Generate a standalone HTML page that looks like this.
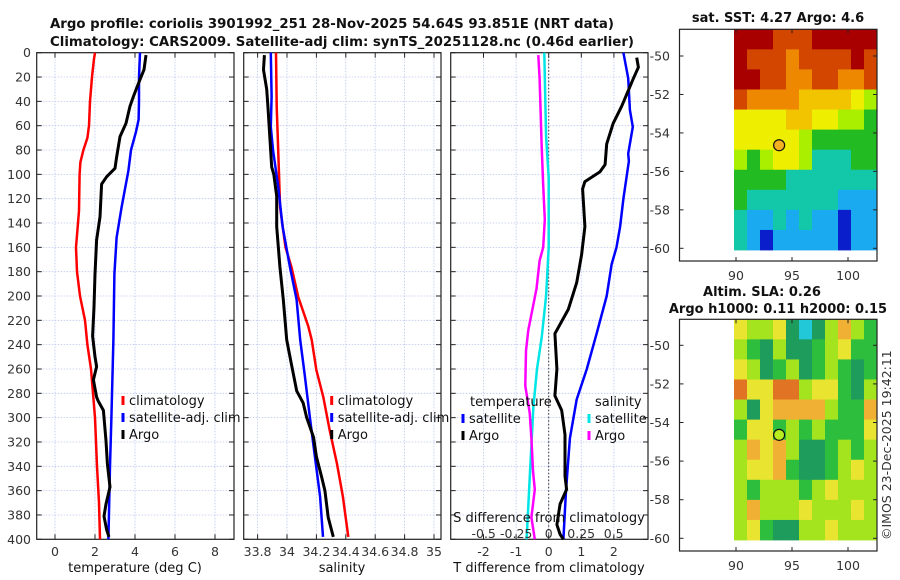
<!DOCTYPE html>
<html><head><meta charset="utf-8"><style>
html,body{margin:0;padding:0;background:#fff}
svg{display:block;font-family:"DejaVu Sans","Liberation Sans",sans-serif}
.tk{font-size:12.5px;fill:#333}
.tt{font-size:13px;font-weight:bold;fill:#111}
.lg{font-size:13px;fill:#111}
</style></head><body>
<svg id="fig" width="900" height="580" viewBox="0 0 900 580">
<text class="tt" x="50" y="28" textLength="564" lengthAdjust="spacingAndGlyphs">Argo profile: coriolis 3901992_251 28-Nov-2025 54.64S 93.851E (NRT data)</text>
<text class="tt" x="50" y="46" textLength="584" lengthAdjust="spacingAndGlyphs">Climatology: CARS2009. Satellite-adj clim: synTS_20251128.nc (0.46d earlier)</text>
<g id="g"></g>
</svg>
<script>
// ---- data ----
const depthGrid=[0,20,40,60,80,100,120,140,160,180,200,220,240,260,280,300,320,340,360,380,400];
const tClimDepth=[0,5,20,40,60,70,80,90,100,130,160,180,200,220,240,260,280,300,340,370,400];
const tClimVal=[2.0,1.95,1.85,1.75,1.7,1.62,1.42,1.27,1.23,1.2,1.05,1.1,1.25,1.5,1.62,1.8,1.9,2.0,2.1,2.2,2.25];
const tSatDepth=[0,20,40,55,65,80,97,127,152,182,236,300,340,400];
const tSatVal=[4.25,4.2,4.2,4.18,4.05,3.8,3.67,3.33,3.08,2.97,2.92,2.82,2.75,2.67];
const tArgoDepth=[2,14,22,36,44,58,69,86,95,102,108,135,154,182,209,233,250,258,269,283,286,294,319,338,357,371,381,392,398];
const tArgoVal=[4.55,4.45,4.25,3.92,3.75,3.55,3.25,3.08,3.0,2.58,2.33,2.25,2.08,2.0,1.95,1.88,2.0,2.08,1.92,2.08,2.15,2.42,2.55,2.62,2.75,2.55,2.45,2.58,2.7];
const sSatDepth=[0,36,61,80,110,143,176,203,236,264,300,332,365,398];
const sSatVal=[33.89,33.895,33.89,33.905,33.94,33.97,34.02,34.065,34.09,34.12,34.156,34.19,34.225,34.245];
const sClimDepth=[0,44,80,127,160,176,201,225,236,261,283,310,338,365,398];
const sClimVal=[33.925,33.93,33.94,33.953,33.99,34.03,34.077,34.145,34.168,34.2,34.247,34.29,34.34,34.38,34.417];
const sArgoDepth=[2,14,30,44,94,100,118,143,176,203,236,256,278,288,300,316,332,349,360,382,398];
const sArgoVal=[33.846,33.84,33.862,33.87,33.896,33.91,33.93,33.93,33.952,33.975,33.998,34.03,34.066,34.11,34.134,34.18,34.2,34.236,34.258,34.28,34.315];
const dTSatDepth=[0,21,47,61,83,89,120,143,160,174,200,231,260,285,317,360,400];
const dTSatVal=[2.29,2.44,2.49,2.58,2.44,2.46,2.29,2.19,2.08,1.93,1.78,1.47,1.17,0.86,0.65,0.53,0.45];
const dTArgoDepth=[4,12,21,44,58,75,92,98,106,112,143,166,189,211,231,260,282,294,314,348,359,371,388,396,400];
const dTArgoVal=[2.7,2.75,2.6,2.24,1.98,1.78,1.73,1.57,1.11,1.04,1.11,1.01,0.86,0.6,0.19,0.25,0.19,0.4,0.5,0.5,0.55,0.35,0.25,0.35,0.45];
const dSSatDepth=[0,69,103,160,200,234,260,291,345,400];
const dSSatVal=[-0.034,-0.02,0,0,-0.02,-0.054,-0.09,-0.118,-0.144,-0.17];
const dSArgoDepth=[2,21,75,109,137,160,171,194,228,245,274,296,317,345,359,382,400];
const dSArgoVal=[-0.08,-0.07,-0.055,-0.042,-0.03,-0.042,-0.07,-0.094,-0.157,-0.175,-0.18,-0.146,-0.133,-0.12,-0.107,-0.133,-0.107];
const tTicks=[0,2,4,6,8];
const sTicks=[33.8,34,34.2,34.4,34.6,34.8,35];
const dTTicks=[-2,-1,0,1,2];
const dSTicks=[-0.5,-0.25,0,0.25,0.5];
const sstGrid=[
[9,9,9,8,8,8,9,9,9,9,9],
[9,8,8,8,7,8,8,8,8,9,8],
[9,9,8,8,7,7,8,8,7,7,8],
[8,7,7,7,7,6,6,6,6,5,4],
[5,5,5,5,6,6,5,5,4,4,3],
[5,5,5,5,5,4,3,3,3,3,3],
[4,3,4,5,5,4,2,2,2,3,3],
[3,3,3,3,2,2,2,2,2,2,2],
[3,2,2,2,2,2,2,2,1,1,1],
[2,1,1,2,1,2,1,1,0,1,1],
[2,1,0,1,1,1,1,1,0,1,1]];
const slaGrid=[
[4,3,3,4,1,0,1,3,5,3,2],
[3,2,1,3,1,1,2,3,4,2,2],
[4,3,1,2,3,1,2,3,2,1,2],
[6,4,4,6,6,3,4,4,2,1,3],
[3,1,4,5,5,5,5,3,2,2,5],
[2,4,4,2,3,2,3,2,2,2,4],
[3,5,4,5,3,1,1,2,3,2,3],
[3,4,4,5,2,1,1,2,3,4,3],
[3,2,3,3,3,2,3,4,3,3,3],
[3,5,3,3,3,4,3,3,3,4,3],
[3,4,2,1,1,3,3,4,3,3,3]];
const latTicks=[-50,-52,-54,-56,-58,-60];
const lonTicks=[90,95,100];
const argoLon=93.851, argoLat=-54.64;

// ---- scales ----
const Y=d=>52.7+d*1.2165;
const XT=t=>55+t*20;
const XS=s=>287+(s-34)*147;
const XdT=t=>548.7+32.6*t;
const XdS=s=>548.7+130*s;
const NS='http://www.w3.org/2000/svg';
const G=document.getElementById('g');
function el(tag,attrs,parent,txt){const e=document.createElementNS(NS,tag);for(const k in attrs)e.setAttribute(k,attrs[k]);if(txt!==undefined)e.textContent=txt;(parent||G).appendChild(e);return e;}

function panel(name,x0,x1,ticks,xf,labels,showDepth){
  const g=el('g',{});
  
  
  depthGrid.forEach(d=>{
    const l=el('line',{x1:x0,x2:x1,y1:Y(d),y2:Y(d),stroke:'#bcc6ee','stroke-width':0.8,'stroke-dasharray':'1.5,1.5'},g);
    
    
    el('line',{x1:x0,x2:x0+5,y1:Y(d),y2:Y(d),stroke:'#222'},g);
    el('line',{x1:x1-5,x2:x1,y1:Y(d),y2:Y(d),stroke:'#222'},g);
    if(showDepth){const t=el('text',{x:31,y:Y(d)+4.5,'text-anchor':'end',class:'tk'},g,String(d));
      
      }
  });
  ticks.forEach((v,i)=>{
    const x=xf(v);
    const l=el('line',{x1:x,x2:x,y1:Y(0),y2:Y(400),stroke:'#bcc6ee','stroke-width':0.8,'stroke-dasharray':'1.5,1.5'},g);
    
    
    el('line',{x1:x,x2:x,y1:Y(0),y2:Y(0)+5,stroke:'#222'},g);
    el('line',{x1:x,x2:x,y1:Y(400)-5,y2:Y(400),stroke:'#222'},g);
    if(labels){const t=el('text',{x:x,y:556,'text-anchor':'middle',class:'tk'},g,labels[i]);
      
      }
  });
  const r=el('rect',{x:x0,y:Y(0),width:x1-x0,height:Y(400)-Y(0),fill:'none',stroke:'#222','stroke-width':1.2},g);
  
  
  return g;
}
function line(name,depths,vals,xf,color,w){
  const d=depths.map((dd,i)=>(i?'L':'M')+xf(vals[i]).toFixed(1)+','+Y(dd).toFixed(1)).join('');
  const p=el('path',{d:d,fill:'none',stroke:color,'stroke-width':w,'stroke-linejoin':'round'});
  
  
}
function legend(name,x,y,color,label){
  const g=el('g',{});
  
  
  el('rect',{x:x-1.5,y:y-9,width:3,height:9,fill:color},g);
  el('text',{x:x+6,y:y,class:'lg'},g,label);
}
function axisTitle(name,x,y,txt){const t=el('text',{x:x,y:y,'text-anchor':'middle',class:'lg'},G,txt);
  
  }

// panel 1
panel('temperature-panel',36.7,234,tTicks,XT,tTicks.map(String),true);
line('temperature-climatology-line',tClimDepth,tClimVal,XT,'#f00',2.5);
line('temperature-satellite-line',tSatDepth,tSatVal,XT,'#00f',2.5);
line('temperature-argo-line',tArgoDepth,tArgoVal,XT,'#000',3);
legend('legend-climatology',123,405,'#f00','climatology');
legend('legend-satellite-adj',123,422,'#00f','satellite-adj. clim');
legend('legend-argo',123,439,'#000','Argo');
axisTitle('x-axis-title-temperature',135,572,'temperature (deg C)');

// panel 2
panel('salinity-panel',243.7,441,sTicks,XS,sTicks.map(String),false);
line('salinity-climatology-line',sClimDepth,sClimVal,XS,'#f00',2.5);
line('salinity-satellite-line',sSatDepth,sSatVal,XS,'#00f',2.5);
line('salinity-argo-line',sArgoDepth,sArgoVal,XS,'#000',3);
legend('legend-climatology-s',331.7,405,'#f00','climatology');
legend('legend-satellite-adj-s',331.7,422,'#00f','satellite-adj. clim');
legend('legend-argo-s',331.7,439,'#000','Argo');
axisTitle('x-axis-title-salinity',342,572,'salinity');

// panel 3
panel('difference-panel',450.7,648,dTTicks,XdT,dTTicks.map(String),false);
const z=el('line',{x1:XdT(0),x2:XdT(0),y1:Y(0),y2:Y(400),stroke:'#333','stroke-width':1,'stroke-dasharray':'1.5,2'});


line('salinity-satellite-diff-line',dSSatDepth,dSSatVal,XdS,'#00e5e5',2.5);
line('salinity-argo-diff-line',dSArgoDepth,dSArgoVal,XdS,'#f0f',2.5);
line('temperature-satellite-diff-line',dTSatDepth,dTSatVal,XdT,'#00f',2.5);
line('temperature-argo-diff-line',dTArgoDepth,dTArgoVal,XdT,'#000',3);
const lt=el('text',{x:470,y:406,class:'lg'},G,'temperature');


const ls=el('text',{x:595,y:406,class:'lg'},G,'salinity');


legend('legend-t-satellite',463,423,'#00f','satellite');
legend('legend-t-argo',463,440,'#000','Argo');
legend('legend-s-satellite',589,423,'#00e5e5','satellite');
legend('legend-s-argo',589,440,'#f0f','Argo');
axisTitle('s-difference-axis-title',549,522,'S difference from climatology');
dSTicks.forEach(v=>{const t=el('text',{x:XdS(v),y:538,'text-anchor':'middle',class:'tk'},G,String(v));
  
  });
axisTitle('x-axis-title-t-difference',549,572,'T difference from climatology');

// ---- maps ----
const sstColors=['#0a1ecc','#1aaaf0','#12c8a8','#22bb22','#aaee00','#eeee00','#f2c400','#ee8800','#d24600','#a80000'];
const slaColors=['#22c8d8','#1e9c5c','#2ebe3e','#a4e41e','#e8e430','#f0b034','#e07424'];
function map(name,fy0,fy1,dy0,dy1,lat50,lat60,grid,colors,dotColor){
  const g=el('g',{});
  
  
  const fx0=679.5,fx1=877,dx0=734,dx1=877;
  const lonX=l=>736+(l-90)*11.2;
  const latY=l=>lat50+(l+50)/-10*(lat60-lat50);
  const rows=grid.length,cols=grid[0].length;
  const cw=(dx1-dx0)/cols,ch=(dy1-dy0)/rows;
  grid.forEach((row,r)=>row.forEach((v,c)=>{
    const cell=el('rect',{x:(dx0+c*cw).toFixed(2),y:(dy0+r*ch).toFixed(2),width:(cw+0.4).toFixed(2),height:(ch+0.4).toFixed(2),fill:colors[v]},g);
    
    
  }));
  el('rect',{x:fx0,y:fy0,width:fx1-fx0,height:fy1-fy0,fill:'none',stroke:'#222','stroke-width':1.2},g);
  latTicks.forEach(l=>{const y=latY(l);
    el('line',{x1:fx0,x2:fx0+4,y1:y,y2:y,stroke:'#222'},g);
    el('line',{x1:fx1-4,x2:fx1,y1:y,y2:y,stroke:'#222'},g);
    const t=el('text',{x:670,y:y+4.5,'text-anchor':'end',class:'tk'},g,String(l));
    
    });
  lonTicks.forEach(l=>{const x=lonX(l);
    el('line',{x1:x,x2:x,y1:fy0,y2:fy0+4,stroke:'#222'},g);
    el('line',{x1:x,x2:x,y1:fy1-4,y2:fy1,stroke:'#222'},g);
    const t=el('text',{x:x,y:fy1+19,'text-anchor':'middle',class:'tk'},g,String(l));
    
    });
  const c=el('circle',{cx:lonX(argoLon),cy:latY(argoLat),r:5.5,fill:dotColor,stroke:'#111','stroke-width':1.2},g);
  
  
}
map('sst-map',29.3,261,29.3,250,56,248.3,sstGrid,sstColors,'#f4b020');
map('sla-map',319.3,551,319.3,540,345.3,538.3,slaGrid,slaColors,'#b8ee20');
const t1=el('text',{x:778,y:22,'text-anchor':'middle',class:'tt'},G,'sat. SST: 4.27 Argo: 4.6');


const t2=el('text',{x:762,y:296,'text-anchor':'middle',class:'tt'},G,'Altim. SLA: 0.26');


const t3=el('text',{x:778,y:313,'text-anchor':'middle',class:'tt'},G,'Argo h1000: 0.11 h2000: 0.15');


const cr=el('text',{x:0,y:0,class:'tk',transform:'translate(891,540) rotate(-90)'},G,'©IMOS 23-Dec-2025 19:42:11');


</script>
</body></html>
